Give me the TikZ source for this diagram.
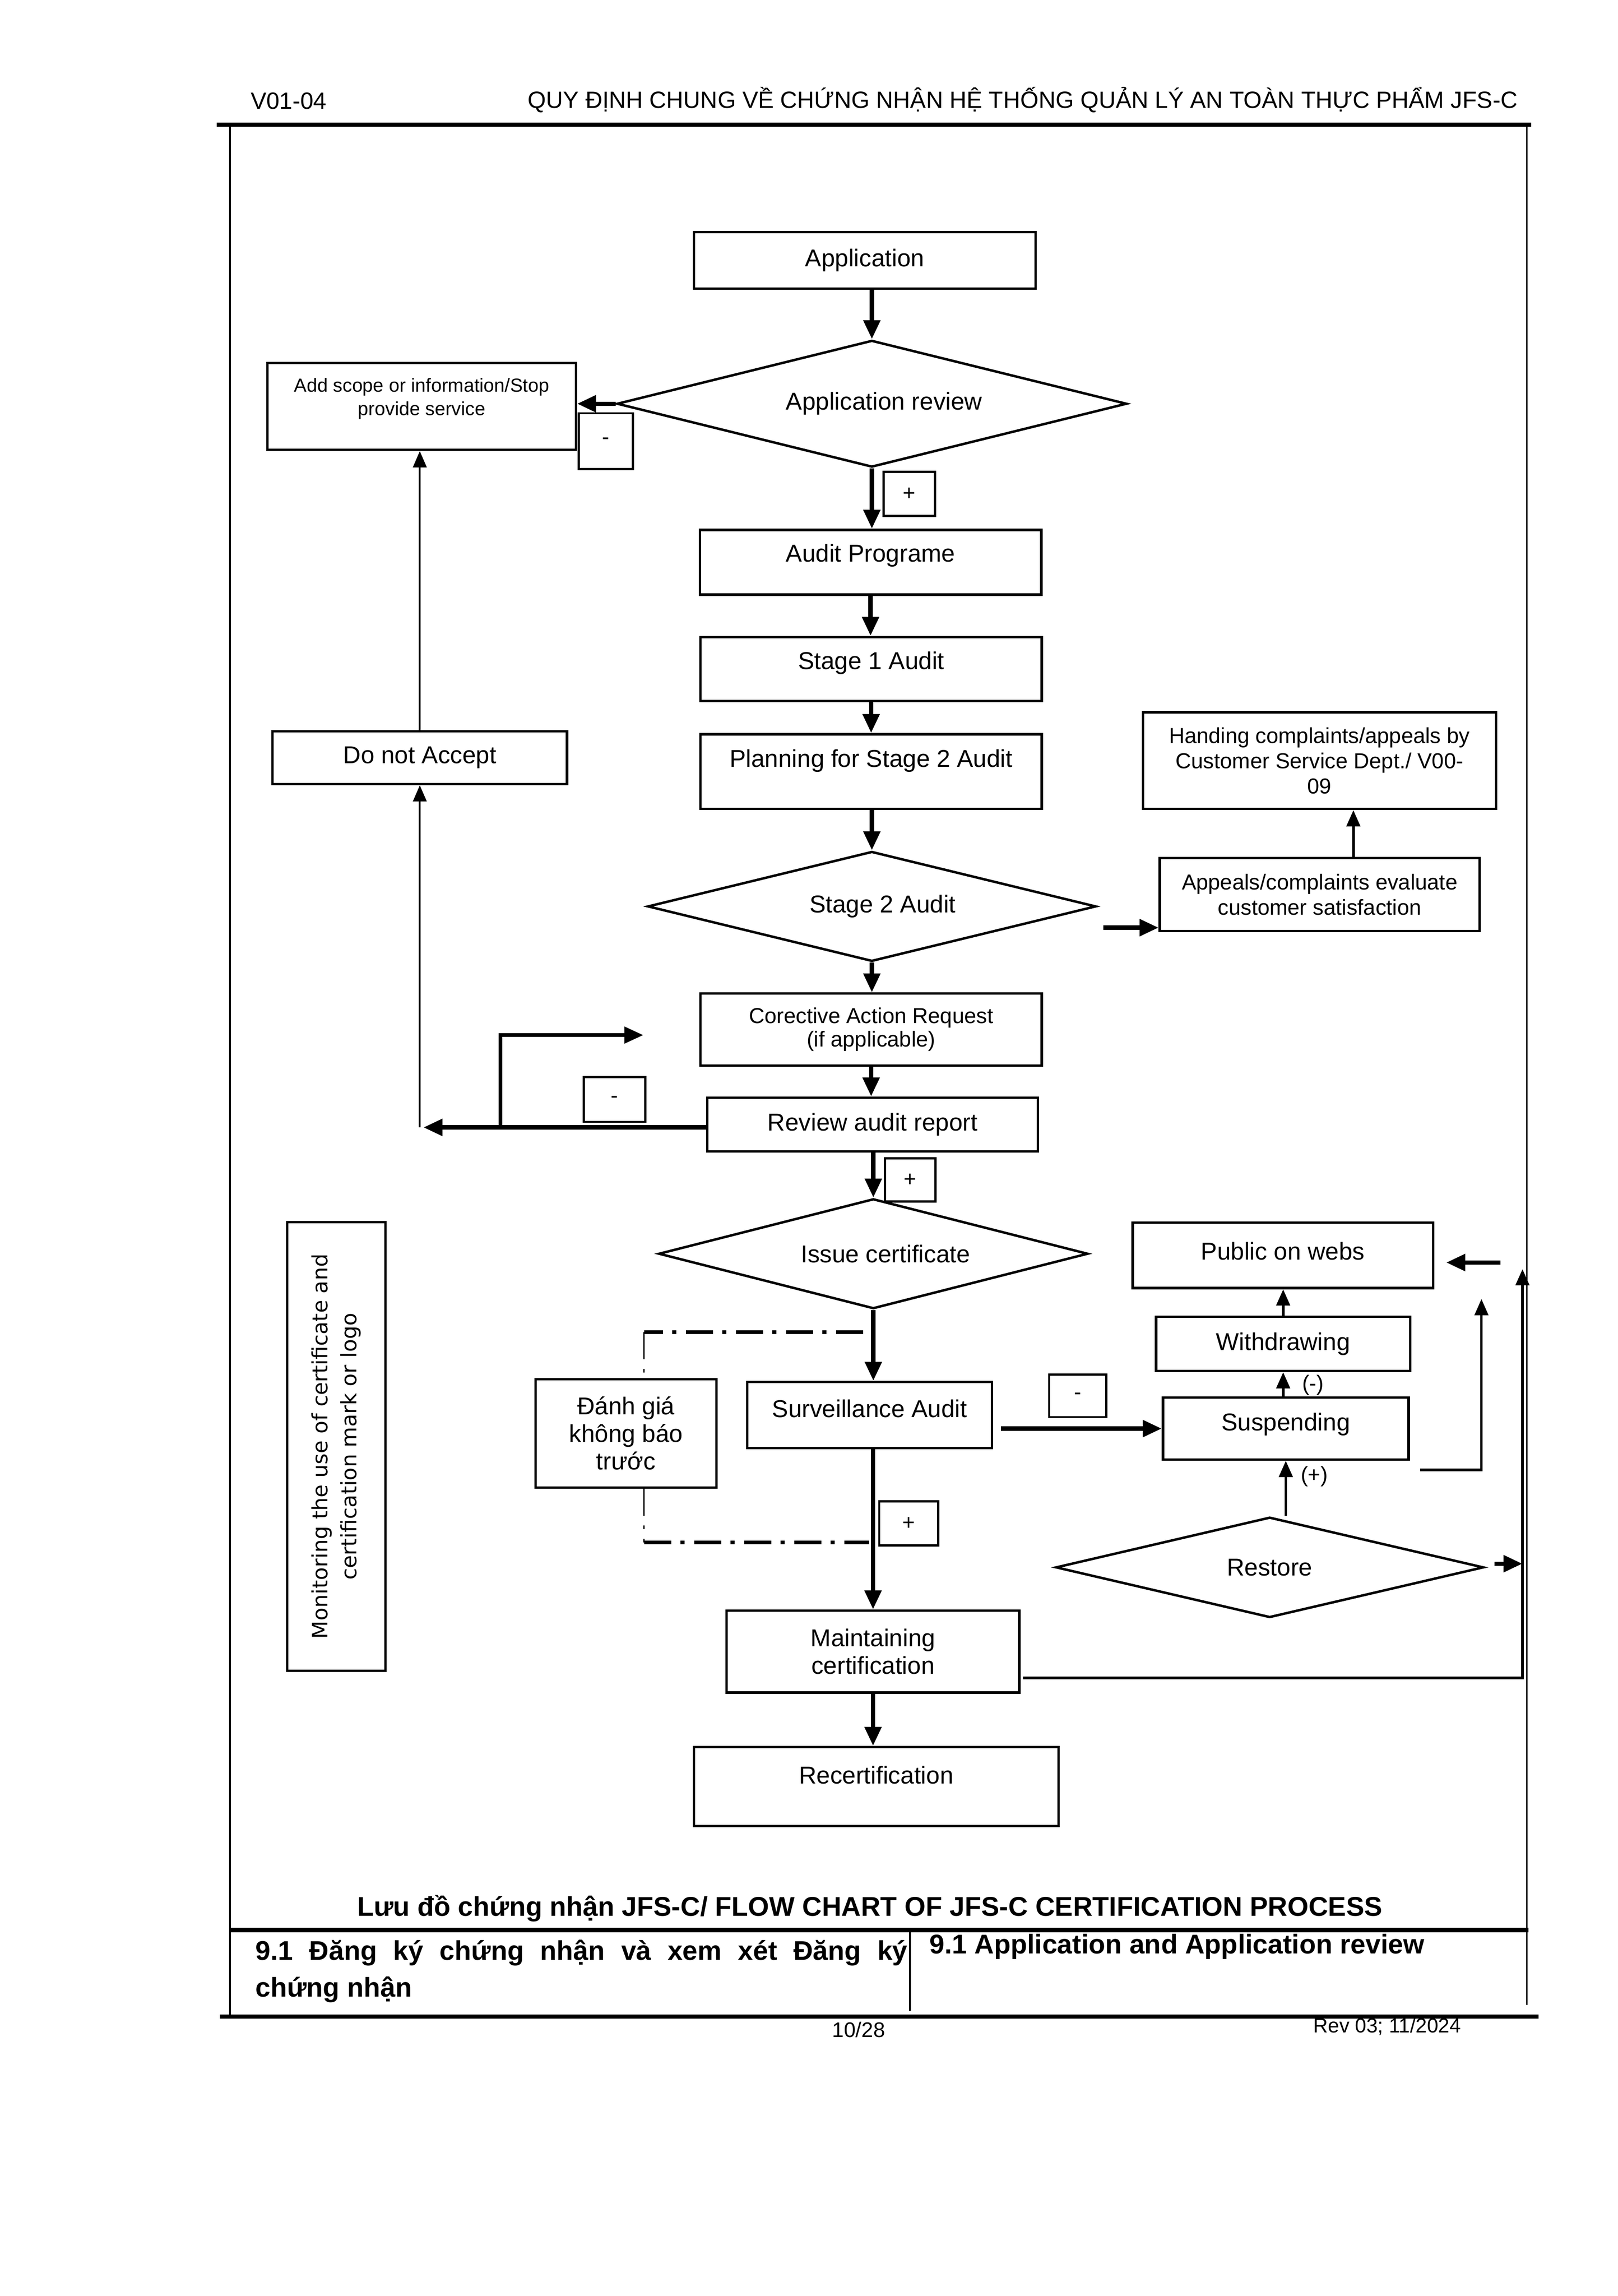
\documentclass[tikz,border=0pt]{standalone}
\usepackage{fontspec}
\setmainfont{Liberation Sans}
\newfontfamily\monifont{DejaVu Sans}
\usetikzlibrary{arrows.meta,shapes.geometric}
\newdimen\unitpx
\unitpx=0.019022cm
\tikzset{
	procbox/.style={draw,line width=0.9pt,align=center,inner sep=0pt,font=\fontsize{9}{10.5}\selectfont},
	decision/.style={draw,diamond,line width=0.9pt,inner sep=0pt,font=\fontsize{9}{10.5}\selectfont},
	signbox/.style={draw,line width=0.8pt,inner sep=0pt,font=\fontsize{8}{9}\selectfont},
	wh/.style 2 args={minimum width=#1\unitpx,minimum height=#2\unitpx},
	lift/.style={text depth=#1pt},
	flow/.style={-{Triangle[length=7pt,width=6pt]},line width=1.6pt},
	thinflow/.style={->,line width=0.7pt},
	dashdot/.style={dash pattern=on 10pt off 3.5pt on 1.5pt off 3.5pt}}

\begin{document}
\begin{tikzpicture}[line join=miter,>={Triangle[length=6pt,width=5pt]},x=0.019022cm,y=-0.019022cm]
		\useasboundingbox (0,0) rectangle (1104,1566.7);
		\draw [line width=1.6pt] (148,85)-- (1045,85);
		\draw [line width=0.6pt] (157,85)-- (157,1376);
		\draw [line width=0.6pt] (1042,85)-- (1042,1368);
		\draw [line width=1.6pt] (157,1317)-- (1043,1317);
		\draw [line width=0.6pt] (621,1317)-- (621,1372);
		\draw [line width=1.6pt] (150,1376)-- (1050,1376);
		\node[font=\fontsize{8.7}{10}\selectfont] (docid) at (197,69) {V01-04};
		\node[font=\fontsize{8.7}{10}\selectfont] (doctitle) at (698,68) {QUY ĐỊNH CHUNG VỀ CHỨNG NHẬN HỆ THỐNG QUẢN LÝ AN TOÀN THỰC PHẨM JFS-C};
		\node[procbox,wh={233.2}{38.5}] (app) at (590.2,177.7) {Application};
		\node[decision,aspect=4.02,wh={348}{86.5}] (apprev) at (595,275.5) {\hspace*{9pt}Application review};
		\node[procbox,wh={210.4}{59.4},font=\fontsize{7}{8.6}\selectfont,lift=7] (addscope) at (287.8,277.3) {Add scope or information/Stop\\provide service};
		\node[signbox,wh={37}{38}] (neg1) at (413.5,301) {-};
		\node[signbox,wh={35}{30}] (pos1) at (620.5,337) {+};
		\node[procbox,wh={233}{44.2},lift=6.9] (prog) at (594.1,383.7) {Audit Programe};
		\node[procbox,wh={233}{43.6},lift=6.3] (stage1) at (594.5,456.5) {Stage 1 Audit};
		\node[procbox,wh={233}{51},lift=9.9] (plan) at (594.5,526.5) {Planning for Stage 2 Audit};
		\node[decision,aspect=4.08,wh={306}{75}] (stage2) at (595,618.5) {\hspace*{8pt}Stage 2 Audit};
		\node[procbox,wh={218.2}{50},font=\fontsize{8}{9.2}\selectfont] (appeals) at (900.6,610.4) {Appeals/complaints evaluate\\customer satisfaction};
		\node[procbox,wh={241}{66},font=\fontsize{8}{9.3}\selectfont] (handing) at (900.5,519) {Handing complaints/appeals by\\Customer Service Dept./ V00-\\09};
		\node[procbox,wh={201}{36}] (reject) at (286.5,517) {Do not Accept};
		\node[procbox,wh={233}{49},font=\fontsize{8}{8.6}\selectfont] (car) at (594.5,702.5) {Corective Action Request\\(if applicable)};
		\node[procbox,wh={225.8}{36.8}] (review) at (595.5,767.4) {Review audit report};
		\node[signbox,wh={42}{30.5}] (neg2) at (419.4,750.2) {-};
		\node[signbox,wh={34.4}{29.5}] (pos2) at (621.2,805.2) {+};
		\node[decision,aspect=3.91,wh={293}{75}] (issue) at (596,855.5) {\hspace*{9pt}Issue certificate};
		\node[procbox,wh={167}{45},lift=4.9] (surv) at (593.5,965.5) {Surveillance Audit};
		\node[procbox,wh={123.5}{74},font=\fontsize{9}{10.2}\selectfont] (unannounced) at (427.2,978) {Đánh giá\\không báo\\trước};
		\node[signbox,wh={39}{29}] (neg3) at (735.5,952.5) {-};
		\node[procbox,wh={167.7}{42.3},lift=4.9] (susp) at (877.5,974.8) {Suspending};
		\node[procbox,wh={173.5}{37}] (withdraw) at (875.7,917) {Withdrawing};
		\node[procbox,wh={205}{44.7},lift=3.2] (webs) at (875.5,856.6) {Public on webs};
		\node[decision,aspect=4.26,wh={292}{68.5}] (restore) at (866.5,1069.5) {Restore};
		\node[signbox,wh={40.4}{30.2}] (pos3) at (620.2,1039.5) {+};
		\node[procbox,wh={199.7}{56},font=\fontsize{9}{10.2}\selectfont] (maintain) at (595.8,1127) {Maintaining\\certification};
		\node[procbox,wh={248.7}{53.8},lift=8.6] (recert) at (598,1219) {Recertification};
		\node[procbox,wh={306}{67},rotate=90,font=\monifont\fontsize{7.8}{10.8}\selectfont] (monitor) at (229.5,987) {Monitoring the use of certificate and\\certification mark or logo};
		\node[font=\fontsize{8}{9}\selectfont] (minuslab) at (896,945) {(-)};
		\node[font=\fontsize{8}{9}\selectfont] (pluslab) at (897,1007.4) {(+)};
		\draw [flow] (apprev.north |- app.south)-- (apprev.north);
		\draw [flow] (apprev.west)-- (apprev.west -| addscope.east);
		\draw [flow] (apprev.south)-- (apprev.south |- prog.north);
		\draw [flow] (prog.south)-- (prog.south |- stage1.north);
		\draw [flow] (stage1.south)-- (stage1.south |- plan.north);
		\draw [flow] (stage2.north |- plan.south)-- (stage2.north);
		\draw [flow] (stage2.south)-- (stage2.south |- car.north);
		\draw [flow] (car.south)-- (car.south |- review.north);
		\draw [flow] (issue.north |- review.south)-- (issue.north);
		\draw [flow] (issue.south)-- (issue.south |- surv.north);
		\draw [flow] (maintain.north |- surv.south)-- (maintain.north);
		\draw [flow] (maintain.south)-- (maintain.south |- recert.north);
		\draw [thinflow] (reject.north)-- (reject.north |- addscope.south);
		\coordinate (revleft) at (289,769.3);
		\coordinate (carfork) at (341.6,769.3);
		\coordinate (carhint) at (439,706.3);
		\draw [flow] (review.west |- revleft)-- (revleft);
		\draw [thinflow] (revleft -| reject.south)-- (reject.south);
		\draw [flow,line width=1.3pt] (carfork) |- (carhint);
		\coordinate (s2out) at (753,633);
		\draw [flow] (s2out)-- (s2out -| appeals.west);
		\coordinate (apup) at ([xshift=23\unitpx]appeals.north);
		\draw [->,line width=1pt] (apup)-- (apup |- handing.south);
		\coordinate (dtopR) at (589,909);
		\coordinate (dtopL) at (439.5,909);
		\coordinate (dbotL) at (439.5,1052.4);
		\coordinate (dbotR) at (593,1052.4);
		\draw [dashdot,line width=1.3pt] (dtopR)-- (dtopL);
		\draw [dashdot,line width=0.5pt] (dtopL)-- (dtopL |- unannounced.north);
		\draw [dashdot,line width=0.5pt] (dbotL |- unannounced.south)-- (dbotL);
		\draw [dashdot,line width=1.3pt] (dbotL)-- (dbotR);
		\coordinate (svout) at (683,974.8);
		\draw [flow] (svout)-- (susp.west);
		\draw [->,line width=1pt] (withdraw.south |- susp.north)-- (withdraw.south);
		\draw [->,line width=1pt] (withdraw.north)-- (withdraw.north |- webs.south);
		\draw [->,line width=1pt] (restore.north -| susp.south)-- (susp.south);
		\coordinate (spout) at (969,1003);
		\coordinate (sptop) at (1011,886.4);
		\draw [->,line width=0.9pt] (spout) -| (sptop);
		\coordinate (webin) at (1024,861.5);
		\coordinate (webtip) at (987,861.5);
		\draw [flow] (webin)-- (webtip);
		\coordinate (rsout) at (1020,1067);
		\coordinate (rsend) at (1039,1067);
		\draw [flow] (rsout)-- (rsend);
		\coordinate (mtout) at (698,1145);
		\coordinate (mttop) at (1039,866);
		\draw [->,line width=1pt] (mtout) -| (mttop);
		\node[anchor=base,font=\bfseries\fontsize{10}{12}\selectfont] (caption) at (593.6,1307.5) {Lưu đồ chứng nhận JFS-C/ FLOW CHART OF JFS-C CERTIFICATION PROCESS};
		\node[anchor=base west,inner sep=0pt,font=\bfseries\fontsize{10}{12}\selectfont] (secvi) at (174,1337.5) {\makebox[445\unitpx][s]{9.1 Đăng ký chứng nhận và xem xét Đăng ký}};
		\node[anchor=base west,inner sep=0pt,font=\bfseries\fontsize{10}{12}\selectfont] (secvib) at (174,1362.6) {chứng nhận};
		\node[anchor=base west,inner sep=0pt,font=\bfseries\fontsize{10}{12}\selectfont] (secen) at (634,1333) {9.1 Application and Application review};
		\node[anchor=base,font=\fontsize{7.8}{9}\selectfont] (pageno) at (586,1390) {10/28};
		\node[anchor=base west,inner sep=0pt,font=\fontsize{7.5}{9}\selectfont] (revno) at (896,1387) {Rev 03; 11/2024};
\end{tikzpicture}
\end{document}
